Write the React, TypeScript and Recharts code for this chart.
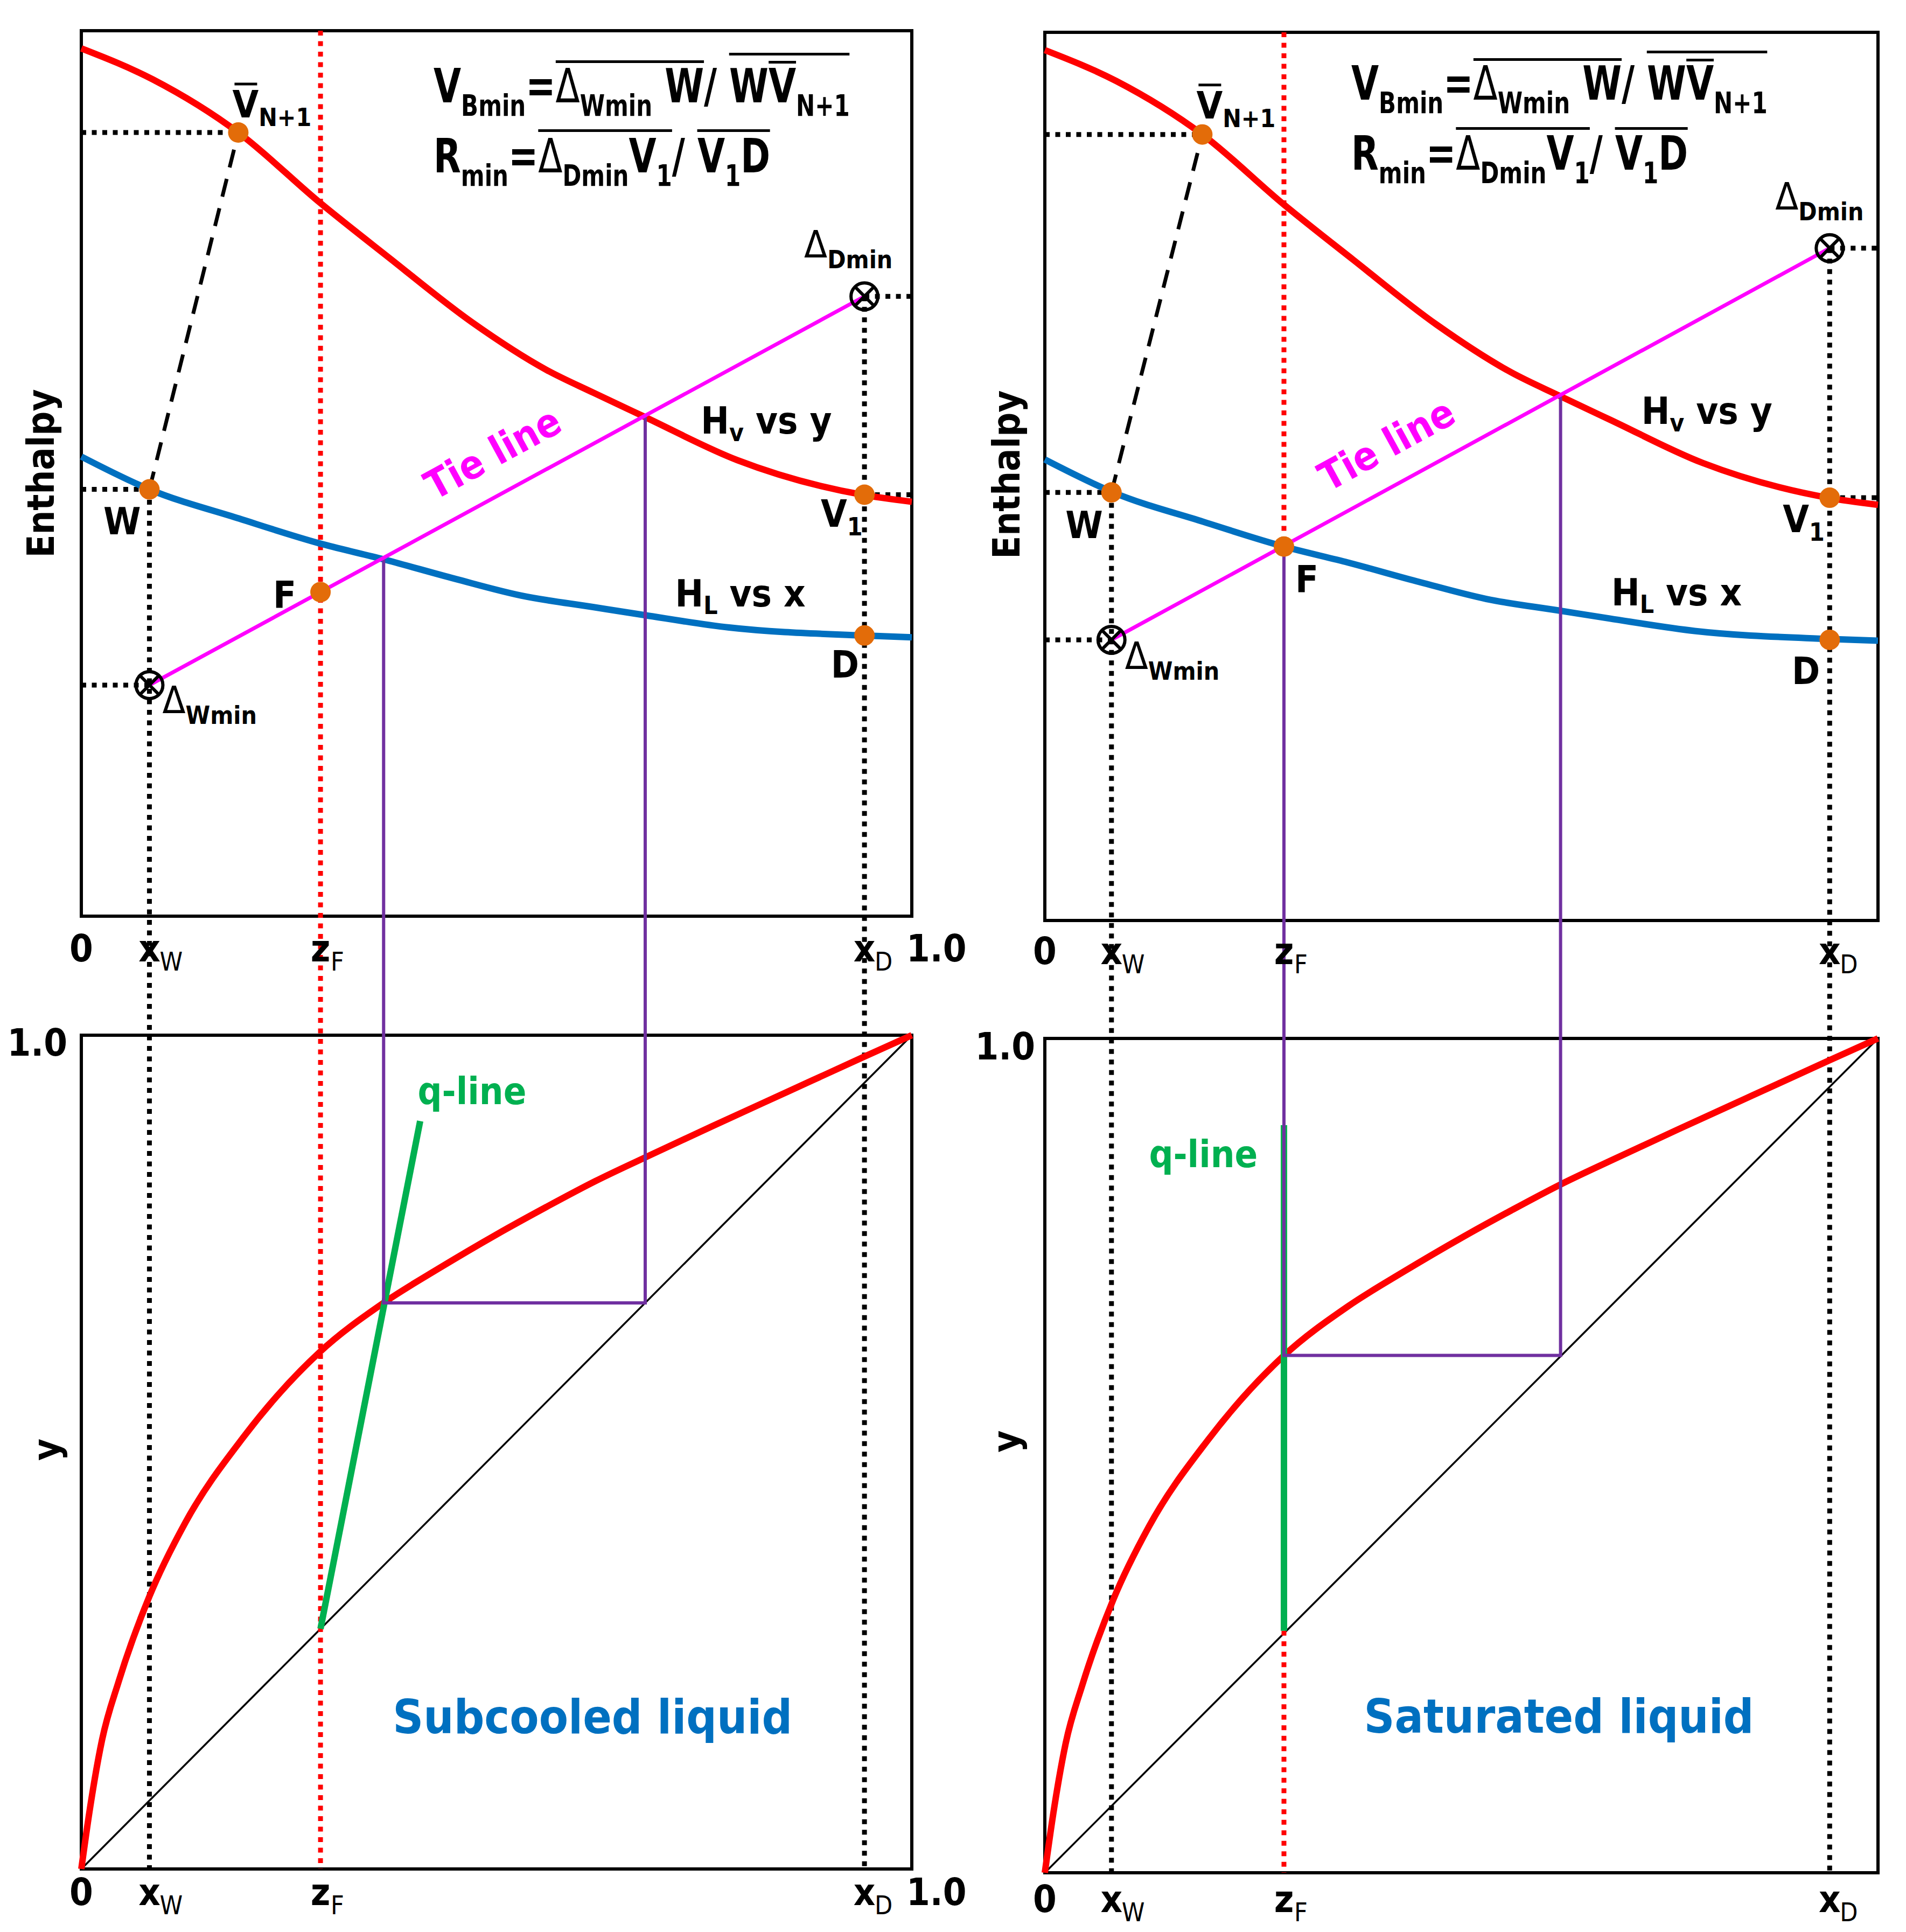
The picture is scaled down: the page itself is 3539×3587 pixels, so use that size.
import type { CSSProperties, ReactElement } from "react";
import {
  ComposedChart,
  Line,
  ReferenceArea,
  ReferenceDot,
  XAxis,
  YAxis,
} from "recharts";

const PAGE_W = 3539;
const PAGE_H = 3587;
const FONT = "'DejaVu Sans Condensed', 'DejaVu Sans', sans-serif";

const RED = "#ff0000";
const BLUE = "#0070c0";
const MAGENTA = "#ff00ff";
const PURPLE = "#7030a0";
const GREEN = "#00b050";
const ORANGE = "#e36c09";

// enthalpy curves (h: 0 = frame bottom, 1 = frame top)
const hvX = [0, 0.086, 0.189, 0.287, 0.37, 0.47, 0.56, 0.617, 0.678, 0.79, 0.94, 1];
const hvH = [0.98, 0.945, 0.885, 0.806, 0.744, 0.671, 0.617, 0.591, 0.564, 0.515, 0.476, 0.468];
const hlX = [0, 0.082, 0.19, 0.287, 0.364, 0.45, 0.53, 0.617, 0.678, 0.78, 0.94, 1];
const hlH = [0.519, 0.482, 0.449, 0.421, 0.403, 0.381, 0.362, 0.349, 0.34, 0.326, 0.317, 0.315];

// x-y equilibrium curve (bottom frames)
const eqX = [0, 0.01, 0.025, 0.045, 0.082, 0.125, 0.196, 0.286, 0.364, 0.43, 0.5, 0.56, 0.619, 0.678, 0.76, 0.85, 0.94, 1];
const eqY = [0, 0.07, 0.155, 0.225, 0.327, 0.415, 0.519, 0.619, 0.679, 0.72, 0.761, 0.794, 0.825, 0.853, 0.891, 0.932, 0.973, 1];

const tickMain = ["0", "x", "z", "x", "1.0"];
const tickSub = ["", "W", "F", "D", ""];

// subcooled feed (left pair)
const subcooledTicks = [0, 0.082, 0.288, 0.943, 1];
// W, V̄N+1, F, V1, D
const subcooledPointX = [0.082, 0.189, 0.288, 0.943, 0.943];
const subcooledPointH = [0.482, 0.885, 0.366, 0.476, 0.317];
// ΔWmin, ΔDmin
const subcooledDeltaX = [0.082, 0.943];
const subcooledDeltaH = [0.261, 0.7];
const subcooledQX = [0.288, 0.408];
const subcooledQY = [0.288, 0.897];
// x on HL, h on HL, x on HV, h on HV, y on the x-y diagram
const subcooledPinch = [0.364, 0.404, 0.679, 0.565, 0.679];

// saturated feed (right pair)
const saturatedTicks = [0, 0.08, 0.287, 0.942];
const saturatedPointX = [0.08, 0.189, 0.287, 0.942, 0.942];
const saturatedPointH = [0.482, 0.885, 0.421, 0.476, 0.316];
const saturatedDeltaX = [0.08, 0.942];
const saturatedDeltaH = [0.316, 0.757];
const saturatedQX = [0.287, 0.287];
const saturatedQY = [0.29, 0.896];
const saturatedPinch = [0.287, 0.421, 0.619, 0.591, 0.62];

type Anchor = "start" | "end";

interface Layout {
  left: number;
  width: number;
  plotLeft: number;
  plotRight: number;
  topY0: number;
  topY1: number;
  botY0: number;
  botY1: number;
  topTickDy: number;
  botTickDy: number;
  yTickGap: number;
  yTickDy: number;
  enthalpyDx: number;
  enthalpyH: number;
  yTitleDx: number;
  yTitleY: number;
  pointLabels: [number, number, Anchor][];
  deltaLabels: [number, number][];
  hvLabel: [number, number];
  hlLabel: [number, number];
  formula: [number, number];
  tieLabelX: number;
  qLabel: [number, number];
  caption: [number, number];
}

interface SideData {
  ticks: number[];
  pointX: number[];
  pointH: number[];
  deltaX: number[];
  deltaH: number[];
  qX: number[];
  qY: number[];
  pinch: number[];
  saturatedFeed: boolean;
  caption: string;
}

const subcooledLayout: Layout = {
  left: 0,
  width: 1800,
  plotLeft: 151,
  plotRight: 1693,
  topY0: 57,
  topY1: 1701,
  botY0: 1922,
  botY1: 3470,
  topTickDy: 84,
  botTickDy: 67,
  yTickGap: 26,
  yTickDy: 38,
  enthalpyDx: -51,
  enthalpyH: 0.5,
  yTitleDx: -41,
  yTitleY: 0.503,
  pointLabels: [
    [-16, 83, "end"],
    [-11, -28, "start"],
    [-45, 30, "end"],
    [-81, 60, "start"],
    [-10, 78, "end"],
  ],
  deltaLabels: [
    [24, 52],
    [-112, -72],
  ],
  hvLabel: [0.746, 0.545],
  hlLabel: [0.715, 0.35],
  formula: [0.424, 0.919],
  tieLabelX: 0.44,
  qLabel: [0.405, 0.917],
  caption: [0.375, 0.163],
};

const saturatedLayout: Layout = {
  left: 1800,
  width: 1739,
  plotLeft: 1940,
  plotRight: 3487,
  topY0: 60,
  topY1: 1709,
  botY0: 1928,
  botY1: 3477,
  topTickDy: 81,
  botTickDy: 73,
  yTickGap: 18,
  yTickDy: 39,
  enthalpyDx: -47,
  enthalpyH: 0.502,
  yTitleDx: -48,
  yTitleY: 0.517,
  pointLabels: [
    [-16, 85, "end"],
    [-11, -30, "start"],
    [21, 85, "start"],
    [-87, 64, "start"],
    [-18, 82, "end"],
  ],
  deltaLabels: [
    [25, 54],
    [-101, -72],
  ],
  hvLabel: [0.716, 0.559],
  hlLabel: [0.68, 0.355],
  formula: [0.368, 0.924],
  tieLabelX: 0.355,
  qLabel: [0.125, 0.846],
  caption: [0.383, 0.168],
};

const subcooled: SideData = {
  ticks: subcooledTicks,
  pointX: subcooledPointX,
  pointH: subcooledPointH,
  deltaX: subcooledDeltaX,
  deltaH: subcooledDeltaH,
  qX: subcooledQX,
  qY: subcooledQY,
  pinch: subcooledPinch,
  saturatedFeed: false,
  caption: "Subcooled liquid",
};

const saturated: SideData = {
  ticks: saturatedTicks,
  pointX: saturatedPointX,
  pointH: saturatedPointH,
  deltaX: saturatedDeltaX,
  deltaH: saturatedDeltaH,
  qX: saturatedQX,
  qY: saturatedQY,
  pinch: saturatedPinch,
  saturatedFeed: true,
  caption: "Saturated liquid",
};

const TXT: CSSProperties = {
  fontFamily: FONT,
  fontWeight: 700,
  fontSize: 70,
  fill: "#000",
  whiteSpace: "pre",
};
const SUBTXT: CSSProperties = { fontSize: 46 };

type Pt = { x: number; v: number };

const seg = (
  key: string,
  data: Pt[],
  stroke: string,
  width: number,
  dash?: string,
  curved = false,
) => (
  <Line
    key={key}
    data={data}
    dataKey="v"
    type={curved ? "monotone" : "linear"}
    stroke={stroke}
    strokeWidth={width}
    strokeDasharray={dash}
    strokeLinecap="butt"
    dot={false}
    activeDot={false}
    legendType="none"
    isAnimationActive={false}
  />
);

// marker-only series: invisible path, custom dot on every point
const markers = (key: string, data: Pt[], draw: (cx: number, cy: number) => ReactElement) => (
  <Line
    key={key}
    data={data}
    dataKey="v"
    type="linear"
    stroke="none"
    activeDot={false}
    legendType="none"
    isAnimationActive={false}
    dot={(p: any) => <g key={`${key}${p.index}`}>{draw(p.cx, p.cy)}</g>}
  />
);

const note = (
  key: string,
  x: number,
  v: number,
  draw: (cx: number, cy: number) => ReactElement,
) => (
  <ReferenceDot
    key={key}
    x={x}
    y={v}
    r={1}
    ifOverflow="visible"
    shape={(p: any) => draw(p.cx, p.cy)}
  />
);

const tickText = (i: number, x: number, y: number) => {
  const main = tickMain[i];
  const sub = tickSub[i];
  if (main === "1.0") {
    return (
      <text x={x - 10} y={y} style={TXT}>
        1.0
      </text>
    );
  }
  return (
    <g>
      <text x={x} y={y} textAnchor="middle" style={TXT}>
        {main}
      </text>
      {sub && (
        <text x={x + 19} y={y + 17} style={{ ...TXT, fontSize: 48, fontWeight: 400 }}>
          {sub}
        </text>
      )}
    </g>
  );
};

const WRAP: CSSProperties = {
  position: "relative",
  display: "inline-block",
  lineHeight: "1.164em",
};
const FSUB: CSSProperties = { fontSize: 56, verticalAlign: -25, lineHeight: 0 };
const THIN: CSSProperties = { fontWeight: 400 };
const bar = (top: number): CSSProperties => ({
  position: "absolute",
  left: 0,
  right: 0,
  top,
  borderTop: "5px solid #000",
});

function Formula({ x, y }: { x: number; y: number }) {
  return (
    <foreignObject x={x} y={y - 95.5} width={1100} height={300}>
      <div
        style={{
          fontFamily: FONT,
          fontWeight: 700,
          fontSize: 88,
          lineHeight: "130px",
          whiteSpace: "nowrap",
          color: "#000",
          transform: "scaleX(0.834)",
          transformOrigin: "0 0",
        }}
      >
        <div style={{ height: 130 }}>
          V<span style={FSUB}>Bmin</span>=
          <span style={WRAP}>
            <span style={THIN}>Δ</span>
            <span style={FSUB}>Wmin</span> W<span style={bar(3.7)} />
          </span>
          /{" "}
          <span style={WRAP}>
            W
            <span style={WRAP}>
              V<span style={bar(4.7)} />
            </span>
            <span style={FSUB}>N+1</span>
            <span style={bar(-10.3)} />
          </span>
        </div>
        <div style={{ height: 130 }}>
          R<span style={FSUB}>min</span>=
          <span style={WRAP}>
            <span style={THIN}>Δ</span>
            <span style={FSUB}>Dmin</span>V<span style={FSUB}>1</span>
            <span style={bar(1.7)} />
          </span>
          /{" "}
          <span style={WRAP}>
            V<span style={FSUB}>1</span>D<span style={bar(1.7)} />
          </span>
        </div>
      </div>
    </foreignObject>
  );
}

function Side({ lay, d }: { lay: Layout; d: SideData }) {
  const botPx = lay.botY1 - lay.botY0;
  const vTop = (lay.botY1 - lay.topY0) / botPx;
  const vBase = (lay.botY1 - lay.topY1) / botPx;
  const hv = (h: number) => vBase + h * (vTop - vBase);
  const pts = (xs: number[], vs: number[]): Pt[] => xs.map((x, i) => ({ x, v: vs[i] }));
  const flat = (x0: number, x1: number, h: number) => pts([x0, x1], [hv(h), hv(h)]);

  const [xW, xVb, , x1] = d.pointX;
  const [hW, hVb, hF, h1] = d.pointH;
  const [xDw, xDd] = d.deltaX;
  const [hDw, hDd] = d.deltaH;
  const [pxL, phL, pxV, phV, py] = d.pinch;
  const zF = d.ticks[2];

  const tieAt = (x: number) => hDw + ((hDd - hDw) * (x - xDw)) / (xDd - xDw);
  const angle =
    (Math.atan2(
      (hDd - hDw) * (lay.topY1 - lay.topY0),
      (xDd - xDw) * (lay.plotRight - lay.plotLeft),
    ) *
      180) /
    Math.PI;

  const guides = [
    flat(0, xVb, hVb),
    flat(0, xW, hW),
    flat(0, xDw, hDw),
    flat(xDd, 1, hDd),
    flat(x1, 1, h1),
    pts([xW, xW], [hv(hW), 0]),
    pts([xDd, xDd], [hv(hDd), 0]),
  ];
  const feedGuides = d.saturatedFeed
    ? [pts([zF, zF], [hv(1), hv(hF)]), pts([zF, zF], [d.qY[0], 0])]
    : [pts([zF, zF], [hv(1), 0])];

  const labelNames: [string, string, boolean][] = [
    ["W", "", false],
    ["V", "N+1", true],
    ["F", "", false],
    ["V", "1", false],
    ["D", "", false],
  ];

  return (
    <div style={{ position: "absolute", left: lay.left, top: 0, width: lay.width, height: PAGE_H }}>
      <ComposedChart
        width={lay.width}
        height={PAGE_H}
        margin={{ top: lay.topY0, right: lay.left + lay.width - lay.plotRight, bottom: 0, left: 0 }}
      >
        <XAxis
          type="number"
          dataKey="x"
          domain={[0, 1]}
          ticks={d.ticks}
          interval={0}
          axisLine={false}
          tickLine={false}
          tickSize={0}
          tickMargin={0}
          height={PAGE_H - lay.botY1}
          tick={(p: any) => tickText(d.ticks.indexOf(p.payload.value), p.x, p.y + lay.botTickDy)}
        />
        <YAxis
          type="number"
          dataKey="v"
          domain={[0, vTop]}
          ticks={[1]}
          interval={0}
          axisLine={false}
          tickLine={false}
          tickSize={0}
          tickMargin={0}
          width={lay.plotLeft - lay.left}
          tick={(p: any) => (
            <text x={p.x - lay.yTickGap} y={p.y + lay.yTickDy} textAnchor="end" style={TXT}>
              1.0
            </text>
          )}
        />

        <ReferenceArea x1={0} x2={1} y1={hv(0)} y2={hv(1)} fill="none" stroke="#000" strokeWidth={6} />
        <ReferenceArea x1={0} x2={1} y1={0} y2={1} fill="none" stroke="#000" strokeWidth={6} />

        {seg("diag", pts([0, 1], [0, 1]), "#000", 3.5)}
        {guides.map((g, i) => seg(`g${i}`, g, "#000", 9, "9 10.5"))}
        {feedGuides.map((g, i) => seg(`z${i}`, g, RED, 9, "9 10.5"))}
        {seg("dash", pts([xW, xVb], [hv(hW), hv(hVb)]), "#000", 7, "34 22")}
        {seg("hl", pts(hlX, hlH.map(hv)), BLUE, 12, undefined, true)}
        {seg("hv", pts(hvX, hvH.map(hv)), RED, 12, undefined, true)}
        {seg("eq", pts(eqX, eqY), RED, 12, undefined, true)}
        {seg("q", pts(d.qX, d.qY), GREEN, 12)}
        {seg("pinch", pts([pxL, pxL, pxV, pxV], [hv(phL), py, py, hv(phV)]), PURPLE, 6)}
        {seg("tie", pts(d.deltaX, d.deltaH.map(hv)), MAGENTA, 7)}

        {markers("states", pts(d.pointX, d.pointH.map(hv)), (cx, cy) => (
          <circle cx={cx} cy={cy} r={19} fill={ORANGE} />
        ))}
        {markers("deltas", pts(d.deltaX, d.deltaH.map(hv)), (cx, cy) => (
          <g stroke="#000" strokeWidth={6} fill="none">
            <circle cx={cx} cy={cy} r={25} />
            <line x1={cx - 17} y1={cy - 17} x2={cx + 17} y2={cy + 17} />
            <line x1={cx - 17} y1={cy + 17} x2={cx + 17} y2={cy - 17} />
          </g>
        ))}

        {d.ticks.map((t, i) =>
          note(`tt${i}`, t, hv(0), (cx, cy) => tickText(i, cx, cy + lay.topTickDy)),
        )}

        {note("enthalpy", 0, hv(lay.enthalpyH), (cx, cy) => (
          <text
            x={cx + lay.enthalpyDx}
            y={cy}
            textAnchor="middle"
            transform={`rotate(-90 ${cx + lay.enthalpyDx} ${cy})`}
            style={TXT}
          >
            Enthalpy
          </text>
        ))}
        {note("ytitle", 0, lay.yTitleY, (cx, cy) => (
          <text
            x={cx + lay.yTitleDx}
            y={cy}
            textAnchor="middle"
            transform={`rotate(-90 ${cx + lay.yTitleDx} ${cy})`}
            style={TXT}
          >
            y
          </text>
        ))}

        {labelNames.map(([main, sub, over], i) =>
          note(`pl${i}`, d.pointX[i], hv(d.pointH[i]), (cx, cy) => {
            const [dx, dy, anchor] = lay.pointLabels[i];
            const x = cx + dx;
            const y = cy + dy;
            return (
              <g>
                <text x={x} y={y} textAnchor={anchor} style={TXT}>
                  {main}
                  {sub && (
                    <tspan dy={16} style={SUBTXT}>
                      {sub}
                    </tspan>
                  )}
                </text>
                {over && <line x1={x + 4} x2={x + 46} y1={y - 62} y2={y - 62} stroke="#000" strokeWidth={5} />}
              </g>
            );
          }),
        )}

        {["Wmin", "Dmin"].map((sub, i) =>
          note(`dl${i}`, d.deltaX[i], hv(d.deltaH[i]), (cx, cy) => (
            <text x={cx + lay.deltaLabels[i][0]} y={cy + lay.deltaLabels[i][1]} style={TXT}>
              <tspan style={{ fontWeight: 400 }}>Δ</tspan>
              <tspan dy={20} style={SUBTXT}>
                {sub}
              </tspan>
            </text>
          )),
        )}

        {note("hvl", lay.hvLabel[0], hv(lay.hvLabel[1]), (cx, cy) => (
          <text x={cx} y={cy} style={TXT}>
            H
            <tspan dy={14} style={SUBTXT}>
              v
            </tspan>
            <tspan dy={-14}> vs y</tspan>
          </text>
        ))}
        {note("hll", lay.hlLabel[0], hv(lay.hlLabel[1]), (cx, cy) => (
          <text x={cx} y={cy} style={TXT}>
            H
            <tspan dy={14} style={SUBTXT}>
              L
            </tspan>
            <tspan dy={-14}> vs x</tspan>
          </text>
        ))}

        {note("tiel", lay.tieLabelX, hv(tieAt(lay.tieLabelX)), (cx, cy) => (
          <text
            transform={`translate(${cx},${cy}) rotate(${-angle})`}
            x={0}
            y={-48}
            style={{ ...TXT, fontSize: 74, fill: MAGENTA }}
          >
            Tie line
          </text>
        ))}

        {note("formula", lay.formula[0], hv(lay.formula[1]), (cx, cy) => (
          <Formula x={cx} y={cy} />
        ))}

        {note("ql", lay.qLabel[0], lay.qLabel[1], (cx, cy) => (
          <text x={cx} y={cy} style={{ ...TXT, fill: GREEN }}>
            q-line
          </text>
        ))}
        {note("cap", lay.caption[0], lay.caption[1], (cx, cy) => (
          <text x={cx} y={cy} style={{ ...TXT, fontSize: 88, fill: BLUE }}>
            {d.caption}
          </text>
        ))}
      </ComposedChart>
    </div>
  );
}

export default function App() {
  return (
    <div
      style={{
        position: "absolute",
        left: 0,
        top: 0,
        width: PAGE_W,
        height: PAGE_H,
        background: "#fff",
        overflow: "hidden",
      }}
    >
      <Side lay={subcooledLayout} d={subcooled} />
      <Side lay={saturatedLayout} d={saturated} />
    </div>
  );
}
